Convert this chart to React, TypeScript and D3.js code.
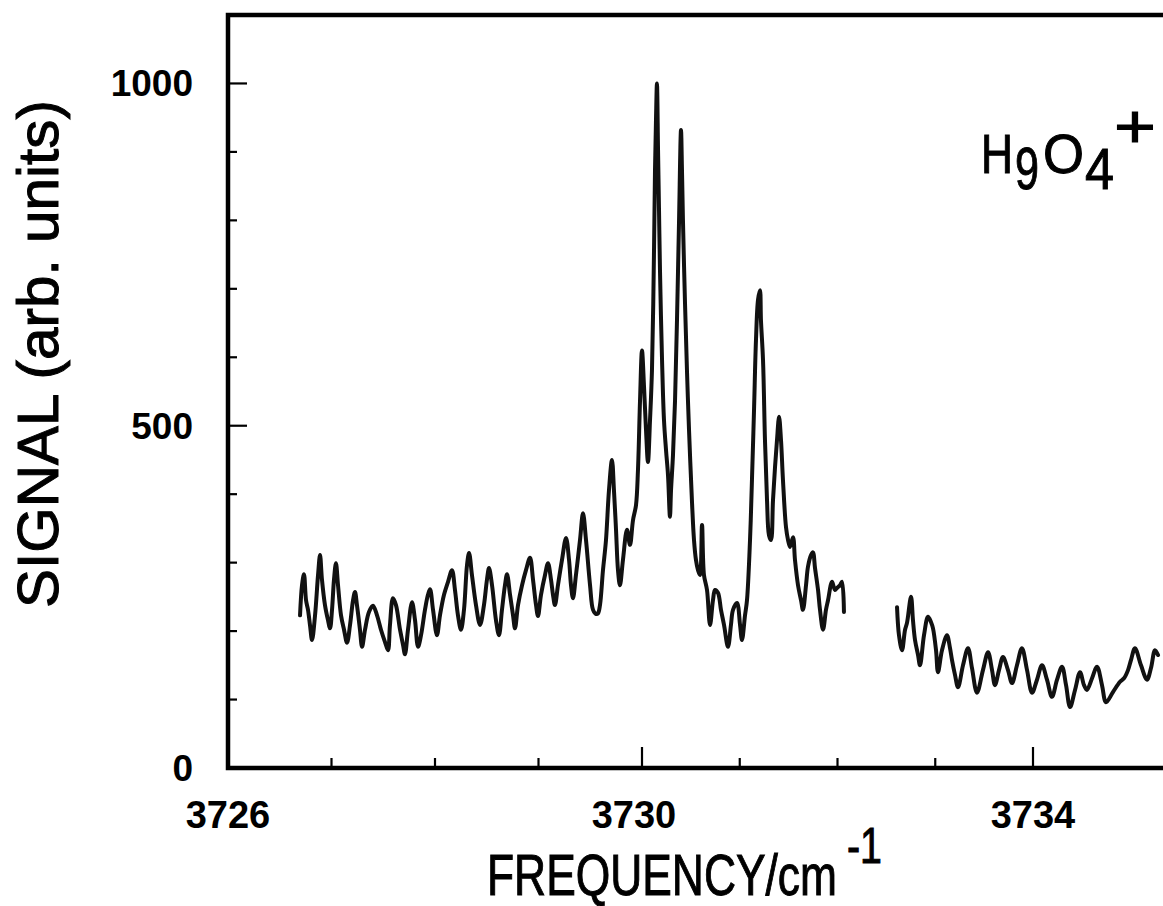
import React from "react";
import * as d3 from "d3";

// Spectrum trace (frequency / cm^-1, signal / arb. units)
const segment1: [number, number][] = [
  [3726.696, 223], [3726.715, 267], [3726.734, 283], [3726.754, 245], [3726.773, 231],
  [3726.792, 209], [3726.812, 187], [3726.841, 223], [3726.870, 282], [3726.889, 311],
  [3726.908, 275], [3726.937, 238], [3726.966, 216], [3726.986, 204], [3727.005, 231],
  [3727.024, 275], [3727.043, 299], [3727.063, 267], [3727.092, 223], [3727.121, 202],
  [3727.150, 183], [3727.179, 209], [3727.208, 245], [3727.227, 257], [3727.246, 238],
  [3727.275, 202], [3727.295, 177], [3727.324, 202], [3727.362, 228], [3727.401, 237],
  [3727.440, 223], [3727.478, 202], [3727.517, 184], [3727.546, 172], [3727.565, 209],
  [3727.594, 248], [3727.623, 238], [3727.662, 202], [3727.691, 180], [3727.710, 166],
  [3727.739, 202], [3727.778, 242], [3727.807, 216], [3727.836, 177], [3727.865, 194],
  [3727.903, 231], [3727.932, 253], [3727.952, 261], [3727.981, 231], [3728.019, 194],
  [3728.048, 223], [3728.087, 253], [3728.126, 272], [3728.164, 289], [3728.193, 260],
  [3728.222, 223], [3728.251, 202], [3728.280, 231], [3728.309, 296], [3728.329, 314],
  [3728.357, 282], [3728.396, 238], [3728.435, 209], [3728.473, 238], [3728.502, 275],
  [3728.522, 292], [3728.551, 267], [3728.589, 216], [3728.618, 194], [3728.647, 231],
  [3728.676, 267], [3728.696, 283], [3728.725, 253], [3728.754, 223], [3728.773, 204],
  [3728.802, 238], [3728.841, 267], [3728.879, 289], [3728.918, 307], [3728.947, 275],
  [3728.976, 238], [3728.995, 222], [3729.024, 253], [3729.063, 282], [3729.092, 299],
  [3729.121, 275], [3729.140, 253], [3729.159, 238], [3729.188, 267], [3729.227, 304],
  [3729.266, 336], [3729.295, 304], [3729.314, 267], [3729.333, 248], [3729.362, 282],
  [3729.401, 333], [3729.430, 372], [3729.459, 333], [3729.498, 267], [3729.527, 231],
  [3729.556, 225], [3729.575, 226], [3729.594, 238], [3729.623, 289], [3729.652, 333],
  [3729.681, 406], [3729.710, 450], [3729.729, 406], [3729.749, 348], [3729.768, 289],
  [3729.787, 267], [3729.816, 304], [3729.855, 348], [3729.884, 326], [3729.913, 362],
  [3729.942, 384], [3729.961, 435], [3729.981, 537], [3730.000, 610], [3730.020, 559],
  [3730.041, 494], [3730.061, 447], [3730.082, 508], [3730.102, 581], [3730.123, 757],
  [3730.133, 873], [3730.143, 946], [3730.153, 1000], [3730.164, 903], [3730.174, 815],
  [3730.184, 727], [3730.205, 596], [3730.225, 508], [3730.246, 464], [3730.266, 428],
  [3730.286, 367], [3730.297, 406], [3730.317, 457], [3730.338, 537], [3730.358, 654],
  [3730.379, 800], [3730.399, 932], [3730.409, 873], [3730.419, 800], [3730.440, 679],
  [3730.460, 581], [3730.481, 494], [3730.512, 387], [3730.532, 333], [3730.552, 304],
  [3730.573, 289], [3730.593, 282], [3730.614, 355], [3730.634, 282], [3730.665, 260],
  [3730.696, 209], [3730.726, 245], [3730.747, 260], [3730.777, 256], [3730.808, 231],
  [3730.839, 209], [3730.880, 177], [3730.910, 209], [3730.931, 231], [3730.972, 241],
  [3731.003, 209], [3731.023, 187], [3731.054, 223], [3731.074, 245], [3731.105, 333],
  [3731.125, 421], [3731.146, 523], [3731.166, 625], [3731.187, 684], [3731.207, 698],
  [3731.217, 654], [3731.238, 596], [3731.258, 479], [3731.279, 391], [3731.299, 340],
  [3731.320, 333], [3731.340, 391], [3731.361, 440], [3731.381, 479], [3731.402, 513],
  [3731.422, 479], [3731.442, 421], [3731.473, 352], [3731.494, 333], [3731.514, 323],
  [3731.545, 337], [3731.565, 304], [3731.596, 267], [3731.627, 245], [3731.647, 231],
  [3731.678, 267], [3731.698, 294], [3731.729, 311], [3731.749, 315], [3731.770, 292],
  [3731.801, 260], [3731.821, 231], [3731.852, 202], [3731.882, 231], [3731.903, 245],
  [3731.944, 272], [3731.974, 260], [3731.995, 263], [3732.026, 267], [3732.046, 272],
  [3732.066, 228],
];

const segment2: [number, number][] = [
  [3732.609, 235], [3732.629, 194], [3732.660, 172], [3732.691, 202], [3732.711, 212],
  [3732.752, 250], [3732.772, 216], [3732.793, 187], [3732.824, 165], [3732.844, 150],
  [3732.885, 194], [3732.926, 221], [3732.957, 213], [3732.977, 204], [3733.008, 172],
  [3733.028, 140], [3733.069, 172], [3733.120, 194], [3733.151, 175], [3733.171, 158],
  [3733.202, 136], [3733.233, 118], [3733.284, 150], [3733.335, 175], [3733.376, 146],
  [3733.427, 110], [3733.488, 143], [3733.540, 169], [3733.581, 143], [3733.611, 121],
  [3733.652, 143], [3733.693, 162], [3733.744, 143], [3733.785, 124], [3733.836, 150],
  [3733.887, 175], [3733.939, 143], [3733.990, 110], [3734.041, 129], [3734.092, 150],
  [3734.143, 129], [3734.194, 104], [3734.246, 129], [3734.297, 148], [3734.338, 121],
  [3734.379, 89], [3734.430, 114], [3734.481, 140], [3734.522, 121], [3734.552, 114],
  [3734.604, 131], [3734.655, 148], [3734.706, 121], [3734.747, 96], [3734.818, 111],
  [3734.890, 126], [3734.931, 131], [3734.972, 143], [3735.003, 158], [3735.043, 175],
  [3735.105, 150], [3735.166, 129], [3735.207, 146], [3735.248, 172], [3735.279, 165],
];

const xTickValues = [3726, 3727, 3728, 3729, 3730, 3731, 3732, 3733, 3734];
const xTickLabels = [3726, 3730, 3734];
const yTickValues = [0, 100, 200, 300, 400, 500, 600, 700, 800, 900, 1000];
const yTickLabels = [0, 500, 1000];

export default function App() {
  const W = 1163;
  const H = 906;
  const x = d3.scaleLinear().domain([3726, 3730, 3734]).range([228, 642, 1033]);
  const y = d3.scaleLinear().domain([0, 1100]).range([768, 15]);
  const line = d3
    .line<[number, number]>()
    .x((d) => x(d[0]))
    .y((d) => y(d[1]))
    .curve(d3.curveCatmullRom.alpha(0.5));
  const font = "'Liberation Sans', Arial, Helvetica, sans-serif";
  const x0 = x(3726);
  const yTop = y(1100);
  const yBot = y(0);

  return (
    <svg
      width={W}
      height={H}
      viewBox={`0 0 ${W} ${H}`}
      style={{ position: "absolute", left: 0, top: 0, background: "#fff" }}
    >
      <rect x={0} y={0} width={W} height={H} fill="#fff" />
      {/* frame */}
      <path
        d={`M${W + 10},${yTop} H${x0} V${yBot} H${W + 10}`}
        fill="none"
        stroke="#000"
        strokeWidth={4.5}
        strokeLinejoin="miter"
      />
      {/* y ticks */}
      {yTickValues.map((v) => {
        const major = v % 500 === 0;
        return (
          <line
            key={"yt" + v}
            x1={x0}
            x2={x0 + (major ? 19 : 9)}
            y1={y(v)}
            y2={y(v)}
            stroke="#000"
            strokeWidth={2.2}
          />
        );
      })}
      {/* x ticks */}
      {xTickValues.map((v) => {
        const major = (v - 3726) % 4 === 0;
        return (
          <line
            key={"xt" + v}
            x1={x(v)}
            x2={x(v)}
            y1={yBot}
            y2={yBot - (major ? 21 : 10)}
            stroke="#000"
            strokeWidth={2.2}
          />
        );
      })}
      {/* y tick labels */}
      {yTickLabels.map((v) => (
        <text
          key={"yl" + v}
          x={193}
          y={y(v) + 13}
          textAnchor="end"
          fontFamily={font}
          fontWeight="bold"
          fontSize={37}
          fill="#000"
        >
          {v}
        </text>
      ))}
      {/* x tick labels */}
      {xTickLabels.map((v) => (
        <text
          key={"xl" + v}
          x={x(v) - (v === 3730 ? 8 : 0)}
          y={828}
          textAnchor="middle"
          fontFamily={font}
          fontWeight="bold"
          fontSize={38}
          fill="#000"
        >
          {v}
        </text>
      ))}
      {/* axis titles */}
      <g fontFamily={font} fill="#000" stroke="#000" strokeWidth={1}>
        <text y={895} fontSize={58}>
          <tspan x={487} textLength={350} lengthAdjust="spacingAndGlyphs">FREQUENCY/cm</tspan>
          <tspan x={847} dy={-32} fontSize={50} textLength={35} lengthAdjust="spacingAndGlyphs">-1</tspan>
        </text>
        <text
          transform="translate(58,354) rotate(-90)"
          textAnchor="middle"
          fontSize={57}
          textLength={508}
          lengthAdjust="spacingAndGlyphs"
        >
          SIGNAL (arb. units)
        </text>
      </g>
      {/* species label */}
      <text y={173} fontFamily={font} fill="#000" stroke="#000" strokeWidth={1} fontSize={56}>
        <tspan x={981} textLength={32} lengthAdjust="spacingAndGlyphs">H</tspan>
        <tspan x={1015} dy={16} fontSize={60} textLength={24} lengthAdjust="spacingAndGlyphs">9</tspan>
        <tspan x={1043} dy={-16} textLength={41} lengthAdjust="spacingAndGlyphs">O</tspan>
        <tspan x={1085} dy={16} fontSize={58} textLength={29} lengthAdjust="spacingAndGlyphs">4</tspan>
        <tspan x={1114} dy={-42} fontSize={62} textLength={42} lengthAdjust="spacingAndGlyphs">+</tspan>
      </text>
      {/* spectrum */}
      {[segment1, segment2].map((seg, i) => (
        <path
          key={"seg" + i}
          d={line(seg) || ""}
          fill="none"
          stroke="#111"
          strokeWidth={4}
          strokeLinejoin="round"
          strokeLinecap="round"
        />
      ))}
    </svg>
  );
}
